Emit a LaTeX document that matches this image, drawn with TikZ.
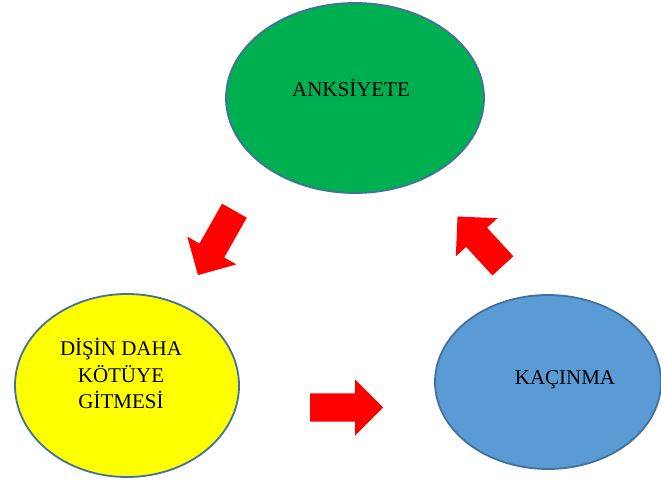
\documentclass[tikz,border=0pt]{standalone}
\usepackage{fontspec}
\setmainfont{Liberation Serif}
\usetikzlibrary{shapes.geometric,shapes.arrows}
\definecolor{anxgreen}{RGB}{0,176,80}
\definecolor{toothyellow}{RGB}{255,255,0}
\definecolor{avoidblue}{RGB}{91,155,213}
\definecolor{rimblue}{RGB}{65,113,156}
\tikzset{state/.style={ellipse,draw=rimblue,line width=1.8pt,inner sep=0pt},
 blockarrow/.style={single arrow,fill=red,draw=none,inner xsep=0pt,inner ysep=14pt,
  single arrow head extend=14pt,single arrow tip angle=90,minimum height=#1,anchor=tail},
 every node/.style={font=\fontsize{21}{26.5}\selectfont}}

\begin{document}
\begin{tikzpicture}[x=1pt,y=-1pt]
\useasboundingbox (0,0) rectangle (661,481);
\node[state,fill=anxgreen,minimum width=258pt,minimum height=190pt,
 label={[xshift=-4pt,yshift=10pt]center:ANKSİYETE}] (anx) at (355,98) {};
\node[state,fill=toothyellow,minimum width=224pt,minimum height=183pt,
 label={[xshift=-6pt,yshift=12pt,align=center]center:DİŞİN DAHA\\KÖTÜYE\\GİTMESİ}] (tooth) at (127,385.5) {};
\node[state,fill=avoidblue,minimum width=226pt,minimum height=174pt,
 label={[xshift=17pt,yshift=2pt]center:KAÇINMA}] (avoid) at (548,382) {};
% arrows of the cycle
\node[blockarrow=74pt,rotate=240.5] (a1) at (234.5,210.5) {};
\node[blockarrow=73pt] (a2) at (310,407.5) {};
\node[blockarrow=67pt,rotate=132.6] (a3) at (503,266) {};
\end{tikzpicture}
\end{document}
